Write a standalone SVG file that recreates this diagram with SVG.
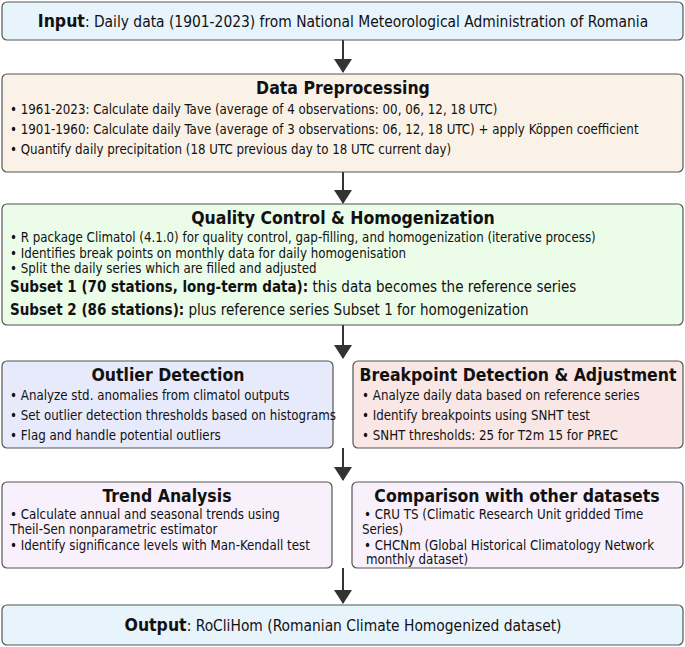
<svg xmlns="http://www.w3.org/2000/svg" width="685" height="647" viewBox="0 0 685 647">
<style>
text{font-family:"DejaVu Sans Condensed","DejaVu Sans",sans-serif;fill:#111}
.box{stroke:#555;stroke-width:1.2}
.t{font-size:17.5px;font-weight:bold;text-anchor:middle}
.b{font-size:13.2px}
.s{font-size:15px}
.c{stroke:#333;stroke-width:2}
</style>
<defs><marker id="ah2" viewBox="0 0 14 18" markerWidth="14" markerHeight="18" refX="13" refY="9" orient="auto" markerUnits="userSpaceOnUse"><path d="M0,0L14,9L0,18z" fill="#333"/></marker></defs>
<g id="connectors" style="marker-end:url(#ah2)">
<line x1="343" y1="40" x2="343" y2="72" class="c" marker-end="url(#ah2)"/>
<line x1="343" y1="172" x2="343" y2="203" class="c" marker-end="url(#ah2)"/>
<line x1="343" y1="325" x2="343" y2="358" class="c" marker-end="url(#ah2)"/>
<line x1="343" y1="448" x2="343" y2="480" class="c" marker-end="url(#ah2)"/>
<line x1="343" y1="568" x2="343" y2="603" class="c" marker-end="url(#ah2)"/>
</g>
<g id="input"><rect class="box" x="2" y="2" width="681" height="38" rx="5" fill="#e8f4fc"/>
<text x="343" y="27" text-anchor="middle" style="font-size:15.4px"><tspan font-weight="bold" style="font-size:17.5px">Input</tspan>: Daily data (1901-2023) from National Meteorological Administration of Romania</text></g>
<g id="preprocessing"><rect class="box" x="2" y="74" width="681" height="98" rx="5" fill="#fbf2e7"/>
<text class="t" x="343" y="94">Data Preprocessing</text>
<text class="b" x="10" y="114">• 1961-2023: Calculate daily Tave (average of 4 observations: 00, 06, 12, 18 UTC)</text>
<text class="b" x="10" y="134">• 1901-1960: Calculate daily Tave (average of 3 observations: 06, 12, 18 UTC) + apply Köppen coefficient</text>
<text class="b" x="10" y="154">• Quantify daily precipitation (18 UTC previous day to 18 UTC current day)</text></g>
<g id="qc"><rect class="box" x="2" y="204" width="681" height="121" rx="5" fill="#ebfde9"/>
<text class="t" x="343" y="224">Quality Control &amp; Homogenization</text>
<text class="b" x="10" y="242">• R package Climatol (4.1.0) for quality control, gap-filling, and homogenization (iterative process)</text>
<text class="b" x="10" y="258">• Identifies break points on monthly data for daily homogenisation</text>
<text class="b" x="10" y="273">• Split the daily series which are filled and adjusted</text>
<text class="s" x="10" y="292"><tspan font-weight="bold">Subset 1 (70 stations, long-term data):</tspan> this data becomes the reference series</text>
<text class="s" x="10" y="315"><tspan font-weight="bold">Subset 2 (86 stations):</tspan> plus reference series Subset 1 for homogenization</text></g>
<g id="outlier"><rect class="box" x="2" y="361" width="331" height="87" rx="5" fill="#e7eafb"/>
<text class="t" x="168" y="381">Outlier Detection</text>
<text class="b" x="10" y="400">• Analyze std. anomalies from climatol outputs</text>
<text class="b" x="10" y="420">• Set outlier detection thresholds based on histograms</text>
<text class="b" x="10" y="440">• Flag and handle potential outliers</text></g>
<g id="breakpoint"><rect class="box" x="353" y="361" width="330" height="87" rx="5" fill="#f9e7e6"/>
<text class="t" x="518" y="381">Breakpoint Detection &amp; Adjustment</text>
<text class="b" x="362" y="400">• Analyze daily data based on reference series</text>
<text class="b" x="362" y="420">• Identify breakpoints using SNHT test</text>
<text class="b" x="362" y="440">• SNHT thresholds: 25 for T2m 15 for PREC</text></g>
<g id="trend"><rect class="box" x="2" y="482" width="330" height="86" rx="5" fill="#f8f0fa"/>
<text class="t" x="167" y="502">Trend Analysis</text>
<text class="b" x="10" y="519">• Calculate annual and seasonal trends using</text>
<text class="b" x="10" y="534">Theil-Sen nonparametric estimator</text>
<text class="b" x="10" y="550">• Identify significance levels with Man-Kendall test</text></g>
<g id="comparison"><rect class="box" x="352" y="482" width="331" height="86" rx="5" fill="#f8f0fa"/>
<text class="t" x="517" y="502">Comparison with other datasets</text>
<text class="b" x="364" y="519">• CRU TS (Climatic Research Unit gridded Time</text>
<text class="b" x="362" y="534">Series)</text>
<text class="b" x="364" y="550">• CHCNm (Global Historical Climatology Network</text>
<text class="b" x="366" y="564">monthly dataset)</text></g>
<g id="output"><rect class="box" x="2" y="605" width="681" height="40" rx="5" fill="#e8f4fc"/>
<text x="343" y="631" text-anchor="middle" style="font-size:15.4px"><tspan font-weight="bold" style="font-size:17.5px">Output</tspan>: RoCliHom (Romanian Climate Homogenized dataset)</text></g>
</svg>
